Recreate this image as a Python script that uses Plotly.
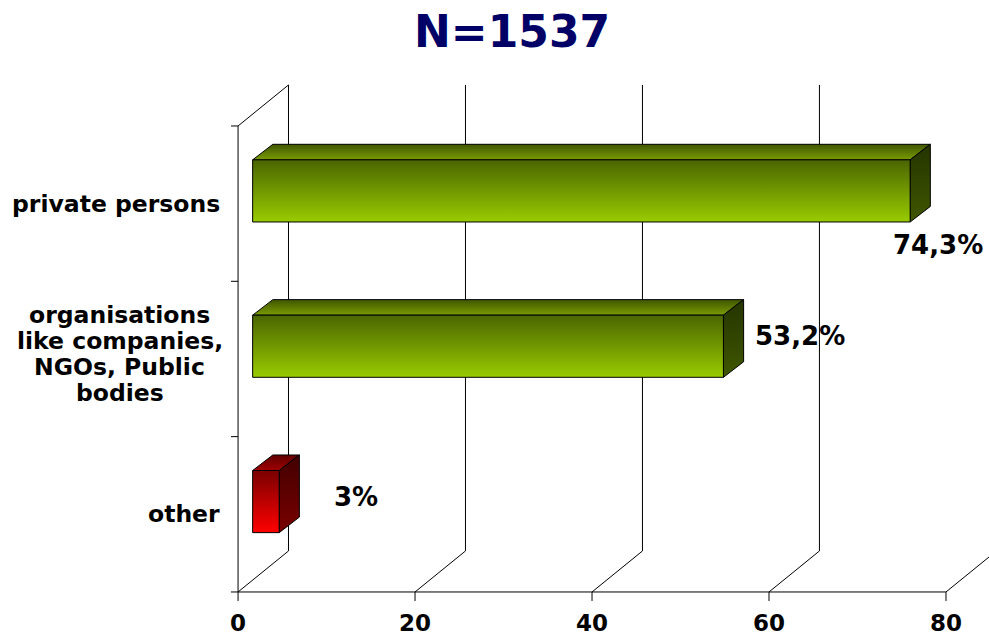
import plotly.graph_objects as go

# ---- data -------------------------------------------------------------
title_text = "N=1537"
categories = [
    "private persons",
    "organisations<br>like companies,<br>NGOs, Public<br>bodies",
    "other",
]
shares = [74.3, 53.2, 3]
x_ticks = [0, 20, 40, 60, 80]

# ---- styling / geometry (kept separate from the data) -------------------
FONT = "DejaVu Sans"
TICK_SIZE = 23
CAT_SIZE = 23.5
VALUE_SIZE = 26
# visible window of the value axis and the category axis (band units)
X_RANGE = [-26.9, 84.86]
Y_RANGE = [-0.277, 3.811]
# depth vector of the 3-D box (walls) and of the bars
WALL_DX, WALL_DY = 5.7, 0.264
BAR_X0, BAR_Y0 = 1.65, 0.082       # front face of a bar sits inside the box
BAR_DX, BAR_DY = 2.28, 0.10        # bar thickness in depth
BAR_HALF = 0.2                     # half height of the front face
TICK_LEN_X, TICK_LEN_Y = 0.8, 0.058
LINE_GAP = 0.167                   # spacing of wrapped category lines
CAT_RIGHT = -1.81                  # right edge of single-line category labels
CAT_CENTER = -13.35                # centre line of wrapped category labels

# per-bar palette: (front bottom, front top, top front, top back, side bottom, side top)
GREEN = ("#99cc00", "#4a6500", "#7a9c00", "#3f5600", "#3f5700", "#253400")
RED = ("#ff0000", "#7a0000", "#a00000", "#600000", "#7a0000", "#420000")
bar_palettes = [GREEN, GREEN, RED]
# offset of each value label from the bar end (value units, band units)
label_nudge = [(3.15, -0.266), (8.65, 0.148), (8.68, 0.112)]

n = len(categories)
centers = [n - 0.5 - i for i in range(n)]

fig = go.Figure()

# ---- box: walls, floor, gridlines, ticks --------------------------------
gx, gy = [], []


def seg(x0, y0, x1, y1):
    gx.extend([x0, x1, None])
    gy.extend([y0, y1, None])


top = float(n)
for t in x_ticks:
    seg(t + WALL_DX, WALL_DY, t + WALL_DX, top + WALL_DY)   # back wall gridline
    seg(t, 0, t + WALL_DX, WALL_DY)                         # floor diagonal
    seg(t, 0, t, -TICK_LEN_Y)                               # value tick
seg(x_ticks[0], 0, x_ticks[-1], 0)                          # front value axis
seg(0, 0, 0, top)                                           # front category axis
seg(0, top, WALL_DX, top + WALL_DY)                         # side wall top edge
for k in range(n + 1):
    seg(-TICK_LEN_X, k, 0, k)                               # category ticks

fig.add_trace(go.Scatter(x=gx, y=gy, mode="lines",
                         line=dict(color="black", width=1),
                         hoverinfo="skip", showlegend=False))


def face(xs, ys, c_low, c_high, y_low, y_high):
    fig.add_trace(go.Scatter(
        x=xs + [xs[0]], y=ys + [ys[0]], mode="lines", fill="toself",
        fillgradient=dict(type="vertical",
                          colorscale=[[0, c_low], [1, c_high]],
                          start=y_low, stop=y_high),
        line=dict(color="black", width=1),
        hoverinfo="skip", showlegend=False))


# ---- 3-D bars ----------------------------------------------------------
for v, yc, pal in zip(shares, centers, bar_palettes):
    x0 = BAR_X0
    x1 = BAR_X0 + v
    yb = yc + BAR_Y0 - BAR_HALF
    yt = yc + BAR_Y0 + BAR_HALF
    # top face
    face([x0, x1, x1 + BAR_DX, x0 + BAR_DX],
         [yt, yt, yt + BAR_DY, yt + BAR_DY],
         pal[2], pal[3], yt, yt + BAR_DY)
    # side face
    face([x1, x1, x1 + BAR_DX, x1 + BAR_DX],
         [yb, yt, yt + BAR_DY, yb + BAR_DY],
         pal[4], pal[5], yb, yt + BAR_DY)
    # front face
    face([x0, x1, x1, x0], [yb, yb, yt, yt],
         pal[0], pal[1], yb, yt)

# ---- texts -------------------------------------------------------------
annotations = []


def bold(size, color="black"):
    return dict(family=FONT, size=size, color=color, weight="bold")


for t in x_ticks:
    annotations.append(dict(x=t, y=-0.2, text=str(t), showarrow=False,
                            xanchor="center", yanchor="middle",
                            font=bold(TICK_SIZE)))

for cat, yc in zip(categories, centers):
    lines = cat.split("<br>")
    if len(lines) == 1:
        annotations.append(dict(x=CAT_RIGHT, y=yc, text=cat, showarrow=False,
                                xanchor="right", yanchor="middle",
                                font=bold(CAT_SIZE)))
        continue
    # wrapped label: lines centred on a common axis
    for j, ln in enumerate(lines):
        yl = yc - (j - (len(lines) - 1) / 2) * LINE_GAP + 0.03
        annotations.append(dict(x=CAT_CENTER, y=yl, text=ln, showarrow=False,
                                xanchor="center", yanchor="middle",
                                font=bold(CAT_SIZE)))

for v, yc, (dx, dy) in zip(shares, centers, label_nudge):
    label = f"{v:g}".replace(".", ",") + "%"
    annotations.append(dict(x=BAR_X0 + v + dx, y=yc + dy, text=label,
                            showarrow=False, xanchor="center",
                            yanchor="middle", font=bold(VALUE_SIZE)))

annotations.append(dict(x=0.518, y=0.951, xref="paper", yref="paper",
                        text=title_text, showarrow=False,
                        xanchor="center", yanchor="middle",
                        font=bold(44, "#000066")))

fig.update_layout(
    width=989, height=635, autosize=False,
    margin=dict(l=0, r=0, t=0, b=0),
    paper_bgcolor="white", plot_bgcolor="white",
    xaxis=dict(range=X_RANGE, visible=False, fixedrange=True),
    yaxis=dict(range=Y_RANGE, visible=False, fixedrange=True),
    annotations=annotations,
)

fig.write_html("out.html")
